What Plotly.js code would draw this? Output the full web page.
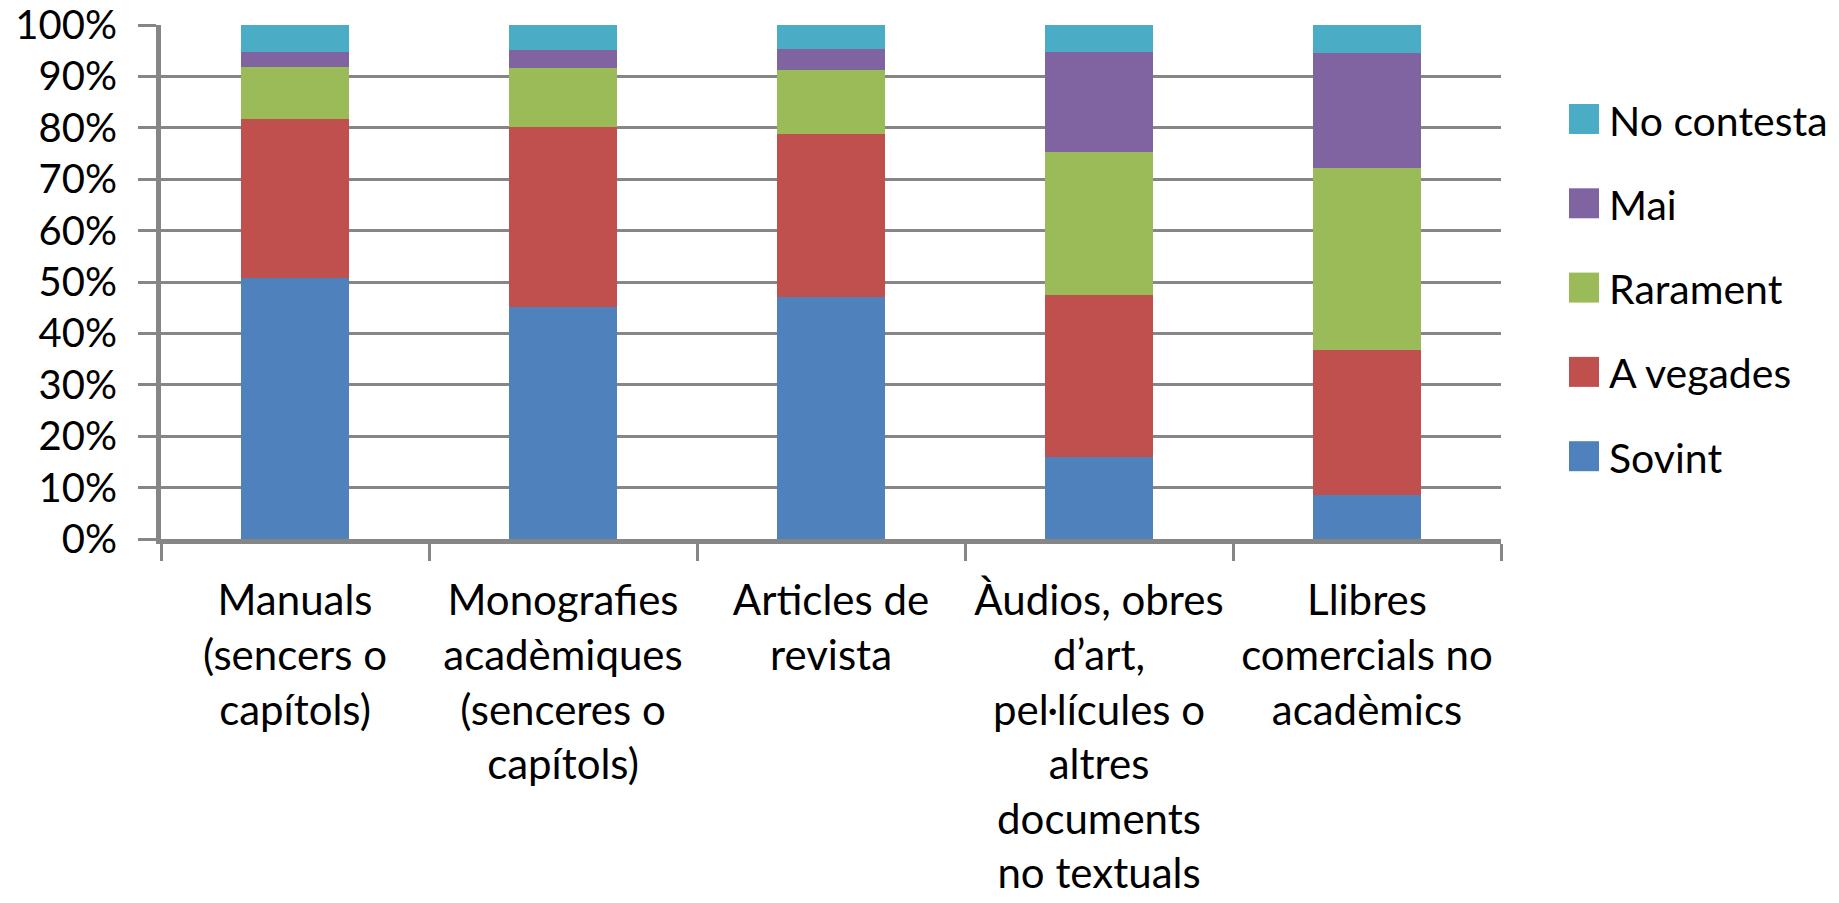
<!DOCTYPE html>
<html>
<head>
<meta charset="utf-8">
<script src="https://cdn.plot.ly/plotly-3.0.1.min.js"></script>
<style>
html,body{margin:0;padding:0;background:#fff;}
#chart{width:1839px;height:903px;}
</style>
</head>
<body>
<div id="chart"></div>
<script>
// Categories (x-axis tick labels)
var categories = [
  "Manuals<br>(sencers o<br>capítols)",
  "Monografies<br>acadèmiques<br>(senceres o<br>capítols)",
  "Articles de<br>revista",
  "Àudios, obres<br>d’art,<br>pel·lícules o<br>altres<br>documents<br>no textuals",
  "Llibres<br>comercials no<br>acadèmics"
];

// Series names and values (percent)
var legendLabels = ["Sovint", "A vegades", "Rarament", "Mai", "No contesta"];
var sovint     = [50.8, 45.1, 47.0, 15.9, 8.6];
var aVegades   = [30.9, 35.0, 31.8, 31.6, 28.2];
var rarament   = [10.2, 11.5, 12.5, 27.8, 35.4];
var mai        = [2.8, 3.5, 4.1, 19.4, 22.3];
var noContesta = [5.3, 4.9, 4.6, 5.3, 5.5];
var seriesValues = [sovint, aVegades, rarament, mai, noContesta];
var colors = ["#4F81BD", "#C0504D", "#9BBB59", "#8064A2", "#4BACC6"];

// y-axis ticks
var yTickVals = [0,10,20,30,40,50,60,70,80,90,100];
var yTickText = ["0%","10%","20%","30%","40%","50%","60%","70%","80%","90%","100%"];

var FONT = "Lato, 'Open Sans', sans-serif";

var traces = seriesValues.map(function(vals, i){
  return {
    type: "bar",
    name: legendLabels[i],
    x: categories,
    y: vals,
    marker: {color: colors[i], line: {width: 0}},
    showlegend: false,
    hoverinfo: "x+y+name"
  };
});

// Custom legend (large square swatches), built from names/colors
var W = 1839, H = 903;
var mL = 161, mR = 338, mT = 25, mB = 364;
var pw = W - mL - mR, ph = H - mT - mB;
function px2x(px){ return (px - mL) / pw; }
function py2y(py){ return (H - mB - py) / ph; }
var legendTop = 119, legendStep = 84.3, sw = 30;
var shapes = [], annotations = [];
for (var k = 0; k < legendLabels.length; k++) {
  var idx = legendLabels.length - 1 - k;
  var cy = legendTop + k * legendStep;
  shapes.push({
    type: "rect", xref: "paper", yref: "paper",
    x0: px2x(1569), x1: px2x(1569 + sw),
    y0: py2y(cy + sw/2), y1: py2y(cy - sw/2),
    fillcolor: colors[idx], line: {width: 0}
  });
  annotations.push({
    xref: "paper", yref: "paper",
    x: px2x(1607), y: py2y(cy + 1),
    xanchor: "left", yanchor: "middle",
    text: legendLabels[idx], showarrow: false,
    font: {family: FONT, size: 41, color: "#000"}
  });
}

var layout = {
  width: W, height: H,
  margin: {l: mL, r: mR, t: mT, b: mB, pad: 0},
  paper_bgcolor: "#fff",
  plot_bgcolor: "#fff",
  barmode: "stack",
  bargap: 0.6,
  showlegend: false,
  font: {family: FONT, size: 41, color: "#000"},
  xaxis: {
    type: "category",
    showline: true, linecolor: "#868686", linewidth: 5,
    ticks: "outside", tickson: "boundaries", ticklen: 17, tickwidth: 3, tickcolor: "#868686",
    showgrid: false, zeroline: false,
    tickfont: {family: FONT, size: 42, color: "#000"},
    tickangle: 0,
    ticklabelstandoff: 21,
    fixedrange: true
  },
  yaxis: {
    range: [-0.0001, 100.001],
    tickvals: yTickVals, ticktext: yTickText,
    showline: true, linecolor: "#868686", linewidth: 5,
    showgrid: true, gridcolor: "#868686", gridwidth: 3,
    zeroline: false,
    ticks: "outside", ticklen: 18, tickwidth: 3, tickcolor: "#868686",
    tickfont: {family: FONT, size: 40, color: "#000"},
    ticklabelstandoff: 13,
    fixedrange: true
  },
  shapes: shapes,
  annotations: annotations
};

Plotly.newPlot("chart", traces, layout, {displayModeBar: false, staticPlot: true});
</script>
</body>
</html>
